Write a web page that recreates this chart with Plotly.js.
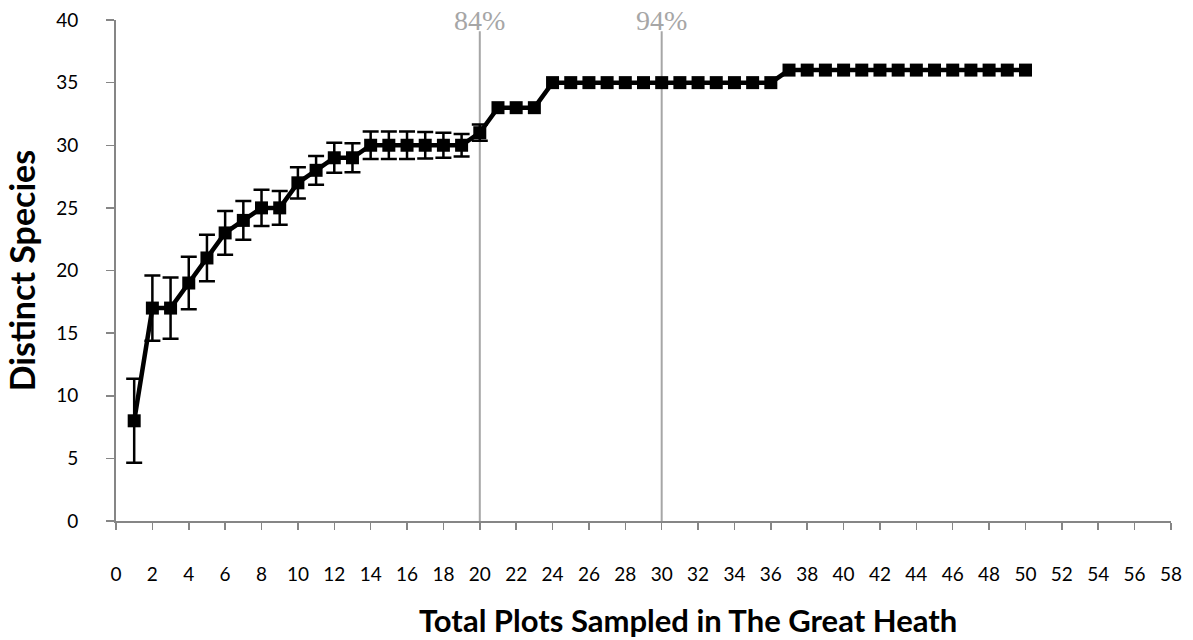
<!DOCTYPE html>
<html>
<head>
<meta charset="utf-8">
<script src="https://cdn.plot.ly/plotly-3.0.1.min.js"></script>
<style>html,body{margin:0;padding:0;background:#fff;}#chart{width:1193px;height:640px;}</style>
</head>
<body>
<div id="chart"></div>
<script>
var plotsSampled = [1,2,3,4,5,6,7,8,9,10,11,12,13,14,15,16,17,18,19,20,21,22,23,24,25,26,27,28,29,30,31,32,33,34,35,36,37,38,39,40,41,42,43,44,45,46,47,48,49,50];
var distinctSpecies = [8,17,17,19,21,23,24,25,25,27,28,29,29,30,30,30,30,30,30,31,33,33,33,35,35,35,35,35,35,35,35,35,35,35,35,35,36,36,36,36,36,36,36,36,36,36,36,36,36,36];
var speciesError = [3.35,2.6,2.45,2.1,1.85,1.75,1.55,1.45,1.35,1.25,1.15,1.2,1.15,1.1,1.1,1.1,1.05,1.0,0.9,0.65];
var markerPlots = [20, 30];
var markerLabels = ['84%', '94%'];
var yTicks = [0,5,10,15,20,25,30,35,40];
var xTicks = [0,2,4,6,8,10,12,14,16,18,20,22,24,26,28,30,32,34,36,38,40,42,44,46,48,50,52,54,56,58];
var xTitle = 'Total Plots Sampled in The Great Heath';
var yTitle = 'Distinct Species';

var trace = {
  x: plotsSampled,
  y: distinctSpecies,
  type: 'scatter',
  mode: 'lines+markers',
  line: {color: '#000', width: 4.5},
  marker: {symbol: 'square', size: 13, color: '#000'},
  error_y: {type: 'data', array: speciesError, visible: true, color: '#000', thickness: 2.5, width: 8},
  hoverinfo: 'skip',
  showlegend: false
};

var shapes = markerPlots.map(function (p) {
  return {type: 'line', xref: 'x', yref: 'y', x0: p, x1: p, y0: 0, y1: 39.1,
          line: {color: '#a6a6a6', width: 2}, layer: 'below'};
});
var serifFont = {family: '"Liberation Serif", "DejaVu Serif", serif', size: 28, color: '#a6a6a6'};
var annotations = markerPlots.map(function (p, i) {
  return {x: p, y: 1.0, xref: 'x', yref: 'paper', text: markerLabels[i], showarrow: false,
          font: serifFont, xanchor: 'center', yanchor: 'middle'};
});
var titleFont = {family: 'Lato, "Open Sans", sans-serif', size: 31, color: '#000', weight: 'bold'};
var yTitleFont = {family: 'Lato, "Open Sans", sans-serif', size: 34, color: '#000', weight: 'bold'};
annotations.push({x: 0.542, y: -0.2375, xref: 'paper', yref: 'paper', text: xTitle, showarrow: false,
  font: titleFont, xanchor: 'center', yanchor: 'bottom', borderpad: 0});

var axisFont = {family: 'Lato, "Open Sans", sans-serif', size: 19, color: '#000'};
var layout = {
  width: 1193, height: 640,
  margin: {l: 116, r: 22, t: 20, b: 119},
  paper_bgcolor: '#fff', plot_bgcolor: '#fff',
  font: axisFont,
  xaxis: {
    range: [0, 58], tickvals: xTicks, ticktext: xTicks.map(String),
    showgrid: false, zeroline: false, showline: true, linecolor: '#868686', linewidth: 2,
    ticks: 'outside', ticklen: 7, tickcolor: '#868686', tickwidth: 1.5,
    tickfont: axisFont, ticklabelstandoff: 28
  },
  yaxis: {
    range: [0, 40], tickvals: yTicks, ticktext: yTicks.map(String),
    showgrid: false, zeroline: false, showline: true, linecolor: '#868686', linewidth: 2,
    ticks: 'outside', ticklen: 8, tickcolor: '#868686', tickwidth: 1.5,
    tickfont: axisFont, ticklabelstandoff: 24,
    title: {text: yTitle, font: yTitleFont, standoff: 10}
  },
  shapes: shapes,
  annotations: annotations
};

Plotly.newPlot('chart', [trace], layout, {displayModeBar: false, staticPlot: true});
</script>
</body>
</html>
